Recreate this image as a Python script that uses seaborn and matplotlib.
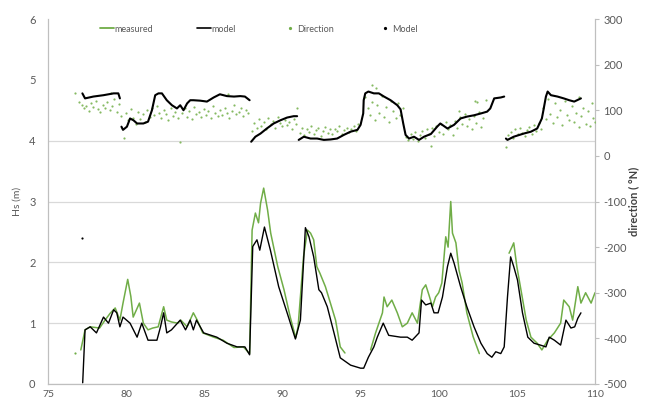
import numpy as np
import pandas as pd
import matplotlib
matplotlib.use("Agg")
import matplotlib.pyplot as plt
from matplotlib.lines import Line2D
import seaborn as sns

nan = np.nan

# ---- Hs measured (green line) ----
meas_day = [77.1, 77.37, 77.7, 78.3, 78.65, 78.97, 79.3, 79.6, 79.8, 80.1, 80.3, 80.45, 80.85, 81.1, 81.4,
            81.7, 82.05, 82.4, 82.6, 82.9, 83.3, 83.5, 83.9, 84.3, 84.55, 84.9, 85.6, 86.2, 86.9, 87.5, 87.9,
            88.06, 88.27, 88.47, 88.6, 88.8, 89.05, 89.25, 89.7, 90.1, 90.5, 90.85, 91.0, 91.35, 91.6, 91.8,
            92.0, 92.2, 92.4, 92.75, 93.07, 93.4, 93.7, 94.0, nan,
            95.64, 95.96, 96.4, 96.5, 96.7, 97.0, 97.35, 97.67, 97.99, 98.3, 98.64, 98.95, 99.17, 99.38, 99.6,
            99.8, 100.0, 100.2, 100.45, 100.6, 100.77, 100.88, 101.1, 101.3, 101.5, 101.8, 102.2, 102.6, nan,
            104.5, 104.7, 104.8, 105.0, 105.26, 105.6, 105.9, 106.3, 106.6, 106.97, 107.4, 107.8, 108.0,
            108.35, 108.57, 108.9, 109.1, 109.4, 109.75, 110.0]
meas_hs = [0.56, 0.89, 0.94, 0.92, 1.05, 1.16, 1.25, 1.05, 1.33, 1.72, 1.44, 1.10, 1.33, 1.00, 0.89,
           0.92, 0.94, 1.27, 1.05, 1.02, 1.00, 1.05, 0.94, 1.17, 1.05, 0.84, 0.77, 0.72, 0.60, 0.61, 0.50,
           2.53, 2.81, 2.65, 2.97, 3.22, 2.86, 2.48, 1.93, 1.55, 1.10, 0.76, 0.94, 2.09, 2.53, 2.48,
           2.37, 1.93, 1.82, 1.60, 1.33, 1.05, 0.61, 0.51, nan,
           0.56, 0.84, 1.17, 1.43, 1.27, 1.38, 1.17, 0.94, 1.00, 1.17, 1.00, 1.55, 1.63, 1.46, 1.27,
           1.43, 1.50, 1.66, 2.42, 2.25, 3.00, 2.48, 2.32, 1.87, 1.66, 1.17, 0.78, 0.50, nan,
           2.15, 2.26, 2.32, 1.93, 1.55, 1.05, 0.77, 0.67, 0.56, 0.72, 0.84, 1.00, 1.38,
           1.27, 1.05, 1.60, 1.33, 1.50, 1.33, 1.50]

# ---- Hs model (black line) ----
model_day = [77.22, 77.37, 77.7, 78.1, 78.55, 78.87, 79.2, 79.4, 79.6, 79.8, 80.25, 80.7, 81.0, 81.4, 81.97,
             82.2, 82.4, 82.6, 82.9, 83.46, 83.8, 84.1, 84.3, 84.5, 84.96, 85.8, 86.45, 87.1, 87.6, 87.9,
             88.1, 88.37, 88.55, 88.85, 89.23, 89.76, 90.3, 90.83, 91.15, 91.47, 91.7, 92.0, 92.33, 92.5,
             92.87, 93.3, 93.7, 94.36, 95.0, 95.2, 95.5, 95.85, 96.07, 96.45, 96.8, 97.56, 97.99, 98.3,
             98.74, 98.9, 99.17, 99.5, 99.7, 99.96, 100.24, 100.56, 100.77, 100.98, 101.4, 101.8, 102.26,
             102.7, 103.1, 103.4, 103.65, 103.97, 104.19, 104.4, 104.6, 104.8, 105.04, 105.36, 105.7,
             106.1, 106.5, 106.86, 107.07, 107.4, 107.8, 108.14, 108.46, 108.7, 108.9, 109.1]
model_hs = [0.02, 0.89, 0.94, 0.84, 1.10, 1.00, 1.22, 1.17, 0.94, 1.10, 1.00, 0.77, 1.00, 0.72, 0.72,
            0.94, 1.17, 0.84, 0.89, 1.05, 0.89, 1.05, 0.89, 1.05, 0.84, 0.77, 0.67, 0.61, 0.61, 0.48,
            2.26, 2.37, 2.20, 2.58, 2.20, 1.60, 1.17, 0.74, 1.05, 2.57, 2.42, 2.09, 1.55, 1.50,
            1.27, 0.84, 0.43, 0.31, 0.26, 0.26, 0.44, 0.61, 0.77, 1.00, 0.80, 0.77, 0.77, 0.72,
            0.84, 1.38, 1.30, 1.33, 1.17, 1.17, 1.43, 1.93, 2.15, 1.99, 1.60, 1.27, 0.94,
            0.67, 0.50, 0.44, 0.53, 0.50, 0.61, 1.43, 2.09, 1.93, 1.71, 1.17, 0.77,
            0.67, 0.64, 0.61, 0.77, 0.72, 0.64, 1.05, 0.92, 0.94, 1.08, 1.17]

# stray single points
stray_meas_day, stray_meas_hs = [76.7], [0.51]
stray_model_day, stray_model_hs = [77.18], [2.40]

# ---- Direction measured (green dots) ----
dir_day = [76.73, 77.0, 77.15, 77.3, 77.45, 77.6, 77.75, 77.9, 78.05, 78.2, 78.35, 78.5, 78.65, 78.8, 78.95,
           79.0, 79.1, 79.25, 79.4, 79.55,
           79.7, 79.85, 80.0, 80.15, 80.3, 80.45, 80.6, 80.75, 80.9, 81.05, 81.2, 81.35, 81.5,
           81.65, 81.8, 81.95, 82.1, 82.25, 82.4, 82.55, 82.7, 82.85, 83.0, 83.15, 83.3, 83.45, 83.6, 83.75,
           83.9, 84.05, 84.2, 84.35, 84.5, 84.65, 84.8, 84.95, 85.1, 85.25, 85.4, 85.55, 85.7, 85.85, 86.0,
           86.15, 86.3, 86.45, 86.5, 86.6, 86.75, 86.9, 87.05, 87.2, 87.35, 87.5, 87.65, 87.8,
           88.05, 88.2, 88.35, 88.5, 88.65, 88.8, 88.95, 89.1, 89.25, 89.4, 89.55, 89.7, 89.85, 90.0, 90.15,
           90.3, 90.45, 90.6, 90.75, 90.9, 90.95,
           91.1, 91.25, 91.4, 91.55, 91.7, 91.85, 92.0, 92.15, 92.3, 92.45, 92.6, 92.75, 92.9, 93.05, 93.2,
           93.35, 93.5, 93.65, 93.8, 93.95, 94.1, 94.25, 94.4, 94.55, 94.7, 94.85,
           95.3, 95.45, 95.6, 95.7, 95.75, 95.9, 96.0, 96.05, 96.2, 96.35, 96.5, 96.65, 96.8, 96.95, 97.1,
           97.25, 97.4, 97.55, 97.7,
           97.9, 98.05, 98.2, 98.35, 98.5, 98.65, 98.8, 98.95, 99.1, 99.25, 99.4, 99.5, 99.55, 99.7, 99.85,
           100.0, 100.15, 100.3, 100.45, 100.6, 100.75, 100.9, 101.05,
           101.2, 101.3, 101.35, 101.5, 101.65, 101.8, 101.95, 102.1, 102.25, 102.3, 102.4, 102.45, 102.55,
           102.7, 102.85, 103.0,
           104.3, 104.45, 104.6, 104.75, 104.9, 105.05, 105.2, 105.35, 105.5, 105.65, 105.8, 105.95, 106.1,
           106.25, 106.4, 106.55,
           106.7, 106.85, 107.0, 107.15, 107.3, 107.45, 107.6, 107.75, 107.9, 108.05, 108.2, 108.35, 108.5,
           108.65, 108.8, 108.95, 109.0, 109.1, 109.25, 109.4, 109.55, 109.7, 109.8, 109.85, 110.0]
dir_val = [137, 118, 112, 104, 110, 99, 115, 107, 121, 103, 96, 112, 105, 118, 100,
           138, 109, 124, 97, 113,
           88, 40, 95, 78, 102, 84, 70, 96, 81, 92, 74, 100, 86,
           104, 90, 110, 95, 84, 101, 92, 78, 106, 88, 97, 82, 30, 94, 105,
           86, 99, 80, 108, 91, 96, 85, 103, 89, 98, 83, 110, 93, 87, 101,
           90, 106, 95, 135, 84, 99, 112, 91, 97, 104, 88, 100, 93,
           55, 72, 61, 80, 66, 75, 58, 83, 69, 77, 62, 86, 71, 65, 79,
           68, 74, 60, 81, 70, 104,
           50, 62, 45, 58, 53, 66, 48, 57, 61, 44, 55, 63, 51, 58, 47,
           60, 54, 65, 49, 57, 62, 52, 59, 66, 55, 70,
           128, 105, 90, 155, 118, 78, 148, 112, 95, 132, 85, 108, 74, 120, 98,
           82, 115, 90, 104,
           42, 35, 48, 38, 52, 33, 45, 55, 40, 58, 47, 22, 62, 44, 66,
           53, 70, 48, 74, 58, 67, 45, 76,
           62, 98, 85, 70, 92, 66, 80, 58, 88, 121, 73, 119, 96,
           64, 82, 122,
           20, 45, 52, 40, 58, 47, 61, 50, 43, 57, 64, 48, 68,
           55, 72, 60,
           105, 80, 125, 92, 71, 115, 86, 100, 68, 120, 90, 78, 110,
           74, 95, 63, 130, 88, 105, 70, 98, 66, 115, 84, 75]

# ---- Direction model (black dots) ----
mdir_day = [77.2, 77.37, 77.9, 78.55, 79.2, 79.5, 79.6, nan,
            79.7, 79.8, 80.05, 80.25, 80.47, 80.7, 81.1, 81.4, 81.65, 81.86, 82.07, 82.29, 82.6, 82.93,
            83.25, 83.46, 83.67, 83.9, 84.1, 84.3, 84.74, 85.17, 85.6, 86.0, 86.45, 86.9, 87.3, 87.6, 87.9, nan,
            88.0, 88.27, 88.6, 89.0, 89.44, 89.87, 90.3, 90.72, 90.94, nan,
            91.04, 91.37, 91.8, 92.22, 92.65, 93.08, 93.5, 93.93, 94.36, 94.8, 95.0, 95.17, 95.2, 95.3, 95.5,
            95.85, 96.17, 96.5, 96.92, 97.35, 97.56, 97.73, 97.88, 98.1, 98.42, 98.74, 99.06, 99.5, 99.9,
            100.1, 100.56, 100.98, 101.4, 101.8, 102.26, 102.7, 103.1, 103.3, 103.55, 103.97, 104.19, nan,
            104.3, 104.4, 104.8, 105.45, 105.9, 106.3, 106.6, 106.7, 106.86, 106.97, 107.18, 107.6, 108.0,
            108.35, 108.67, 109.1]
mdir_val = [137, 126, 130, 133, 137, 137, 126, nan,
            64, 57, 64, 82, 78, 71, 71, 75, 100, 133, 137, 137, 122, 111,
            104, 111, 100, 115, 122, 122, 121, 119, 128, 135, 131, 130, 131, 130, 122, nan,
            31, 42, 49, 60, 71, 78, 84, 87, 87, nan,
            35, 42, 38, 38, 35, 36, 38, 46, 53, 57, 68, 93, 122, 137, 141,
            137, 137, 130, 122, 111, 102, 71, 46, 38, 42, 35, 42, 48, 64,
            71, 60, 68, 82, 86, 89, 93, 97, 104, 126, 128, 130, nan,
            38, 35, 42, 49, 53, 60, 82, 100, 130, 141, 133, 130, 126,
            122, 119, 126]

x_ticks = [75, 80, 85, 90, 95, 100, 105, 110]
hs_ticks = [0, 1, 2, 3, 4, 5, 6]
dir_ticks = [-500, -400, -300, -200, -100, 0, 100, 200, 300]
legend_labels = ["measured", "model", "Direction", "Model"]

GREEN = "#70AD47"
GREY_TXT = "#595959"
GRID = "#D9D9D9"

sns.set_theme(style="white")
plt.rcParams["font.family"] = ["Lato", "DejaVu Sans"]

fig = plt.figure(figsize=(6.51, 4.01), dpi=100)
ax = fig.add_axes([48 / 651, 1 - 384 / 401, (595 - 48) / 651, (384 - 19) / 401])
ax2 = ax.twinx()

meas_df = pd.DataFrame({"day": meas_day, "hs": meas_hs})
model_df = pd.DataFrame({"day": model_day, "hs": model_hs})
dir_df = pd.DataFrame({"day": dir_day, "dir": dir_val})
mdir_df = pd.DataFrame({"day": mdir_day, "dir": mdir_val})

ax.plot(meas_df["day"], meas_df["hs"], color=GREEN, lw=1.1, zorder=3)
ax.plot(model_df["day"], model_df["hs"], color="black", lw=1.0, zorder=4)
sns.scatterplot(x=stray_meas_day, y=stray_meas_hs, ax=ax, color=GREEN, s=2.5, linewidth=0, zorder=3)
sns.scatterplot(x=stray_model_day, y=stray_model_hs, ax=ax, color="black", s=2.5, linewidth=0, zorder=4)

sns.scatterplot(data=dir_df, x="day", y="dir", ax=ax2, color="#86BA62", s=2.5, linewidth=0, zorder=3)
ax2.plot(mdir_df["day"], mdir_df["dir"], color="black", lw=1.5, zorder=4)

ax.set_xlim(75, 110)
ax.set_ylim(0, 6)
ax2.set_ylim(-500, 300)
ax.set_xticks(x_ticks)
ax.set_yticks(hs_ticks)
ax2.set_yticks(dir_ticks)
ax.set_xticklabels([str(t) for t in x_ticks])
ax.set_yticklabels([str(t) for t in hs_ticks])
ax2.set_yticklabels([str(t) for t in dir_ticks])

ax.yaxis.grid(True, color=GRID, lw=0.9)
for gl, t in zip(ax.yaxis.get_gridlines(), hs_ticks):
    if t > 4:
        gl.set_visible(False)
ax.set_axisbelow(True)

for a in (ax, ax2):
    a.set_xlabel("")
    a.set_ylabel("")
    for s in a.spines.values():
        s.set_color("#BFBFBF")
        s.set_linewidth(0.8)
    a.spines["top"].set_visible(False)

ax.tick_params(axis="x", length=0, pad=4, labelsize=7.5, labelcolor=GREY_TXT)
ax.tick_params(axis="y", length=0, pad=9, labelsize=8, labelcolor=GREY_TXT)
ax2.tick_params(axis="y", length=3, width=0.8, color="#BFBFBF", pad=3, labelsize=8, labelcolor=GREY_TXT,
                direction="out")

ax.set_ylabel("Hs (m)", fontsize=7.5, color=GREY_TXT, labelpad=5)
ax2.set_ylabel("direction ( °N)", fontsize=8, color="#404040", fontweight="bold", labelpad=1)

for a in (ax, ax2):
    if a.get_legend() is not None:
        a.get_legend().remove()

handles = [
    Line2D([], [], color=GREEN, lw=1.3),
    Line2D([], [], color="black", lw=1.2),
    Line2D([], [], color=GREEN, marker="o", ms=1.3, lw=0),
    Line2D([], [], color="black", marker="o", ms=1.3, lw=0),
]
starts_px = [100, 197, 283, 378]
for h, lab, xs in zip(handles, legend_labels, starts_px):
    fig.legend([h], [lab], loc="center left", bbox_to_anchor=(xs / 651, 1 - 29 / 401),
               frameon=False, fontsize=6.5, labelcolor=GREY_TXT, handlelength=1.5,
               handletextpad=0.1, borderaxespad=0, borderpad=0)

fig.savefig("out.png", dpi=100)
